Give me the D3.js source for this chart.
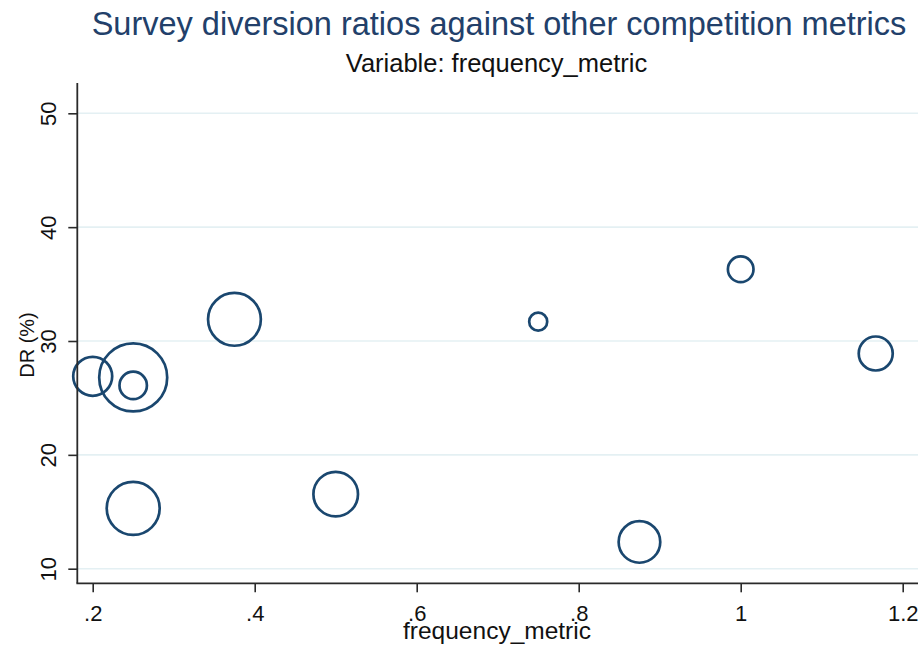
<!DOCTYPE html>
<html>
<head>
<meta charset="utf-8">
<script src="https://cdn.jsdelivr.net/npm/d3@7"></script>
<style>
  html, body { margin: 0; padding: 0; background: #ffffff; }
  svg { display: block; font-family: "Liberation Sans", Arial, sans-serif; }
</style>
</head>
<body>
<svg id="chart" width="919" height="647"></svg>
<script>
// Survey diversion ratio (%) against frequency_metric; marker area ~ weight
const frequencyMetric = [0.2, 0.25, 0.25, 0.375, 0.25, 0.5, 0.75, 1.0, 1.1667, 0.875];
const diversionRatio  = [26.9, 26.8, 26.1, 31.9, 15.3, 16.55, 31.7, 36.3, 28.9, 12.35];
const weights         = [380, 1156, 188, 697, 702, 497, 81, 164, 289, 433];

const xTicks = [0.2, 0.4, 0.6, 0.8, 1.0, 1.2];
const xTickLabels = [".2", ".4", ".6", ".8", "1", "1.2"];
const yTicks = [10, 20, 30, 40, 50];

const titleText = "Survey diversion ratios against other competition metrics";
const subtitleText = "Variable: frequency_metric";
const xTitle = "frequency_metric";
const yTitle = "DR (%)";

const svg = d3.select("#chart");
const navy = "#1a476f";
const axisColor = "#2a2a2a";
const gridColor = "#e4f0f3";

// plot region edges
const plotLeft = 77.3, plotRight = 918, plotTop = 83, plotBottom = 583.3;

const x = d3.scaleLinear().domain([0.2, 1.2]).range([92.7, 902.7]);
const y = d3.scaleLinear().domain([10, 50]).range([568.7, 113.3]);
const r = d3.scaleSqrt().domain([0, d3.max(weights)]).range([0, 34]);

// horizontal grid lines
svg.append("g")
  .selectAll("line")
  .data(yTicks)
  .join("line")
  .attr("x1", plotLeft).attr("x2", plotRight)
  .attr("y1", d => y(d)).attr("y2", d => y(d))
  .attr("stroke", gridColor).attr("stroke-width", 1.6);

// markers
const points = frequencyMetric.map((v, i) => ({ fx: v, dr: diversionRatio[i], w: weights[i] }));
svg.append("g")
  .selectAll("circle")
  .data(points)
  .join("circle")
  .attr("cx", d => x(d.fx))
  .attr("cy", d => y(d.dr))
  .attr("r", d => r(d.w))
  .attr("fill", "none")
  .attr("stroke", navy)
  .attr("stroke-width", 2.7);

// y axis
const yAxis = d3.axisLeft(y).tickValues(yTicks).tickSize(9).tickPadding(0).tickFormat(d3.format("d"));
const gy = svg.append("g").attr("transform", `translate(${plotLeft},0)`).call(yAxis);
gy.select(".domain").remove();
gy.selectAll(".tick line").attr("stroke", axisColor).attr("stroke-width", 1.6);
gy.selectAll(".tick text")
  .attr("x", null).attr("dy", null)
  .attr("transform", "translate(-21,0) rotate(-90)")
  .attr("text-anchor", "middle")
  .attr("font-size", 22)
  .attr("font-family", "Liberation Sans, Arial, sans-serif")
  .attr("fill", "#111");

svg.append("line")
  .attr("x1", plotLeft).attr("x2", plotLeft)
  .attr("y1", plotTop).attr("y2", plotBottom)
  .attr("stroke", axisColor).attr("stroke-width", 1.8);

// x axis
const xAxis = d3.axisBottom(x).tickValues(xTicks).tickSize(9).tickPadding(0)
  .tickFormat((d, i) => xTickLabels[i]);
const gx = svg.append("g").attr("transform", `translate(0,${plotBottom})`).call(xAxis);
gx.select(".domain").remove();
gx.selectAll(".tick line").attr("stroke", axisColor).attr("stroke-width", 1.6);
gx.selectAll(".tick text")
  .attr("y", 38).attr("dy", null)
  .attr("font-size", 22)
  .attr("font-family", "Liberation Sans, Arial, sans-serif")
  .attr("fill", "#111");

svg.append("line")
  .attr("x1", plotLeft - 0.9).attr("x2", plotRight)
  .attr("y1", plotBottom).attr("y2", plotBottom)
  .attr("stroke", axisColor).attr("stroke-width", 1.8);

// titles
svg.append("text")
  .attr("x", 499).attr("y", 35)
  .attr("text-anchor", "middle")
  .attr("font-size", 32.5)
  .attr("fill", "#22406a")
  .text(titleText);

svg.append("text")
  .attr("x", 496.5).attr("y", 71.5)
  .attr("text-anchor", "middle")
  .attr("font-size", 25.5)
  .attr("fill", "#111")
  .text(subtitleText);

svg.append("text")
  .attr("x", 497).attr("y", 639)
  .attr("text-anchor", "middle")
  .attr("font-size", 24.5)
  .attr("fill", "#111")
  .text(xTitle);

svg.append("text")
  .attr("transform", "translate(34,345) rotate(-90)")
  .attr("text-anchor", "middle")
  .attr("font-size", 20)
  .attr("fill", "#111")
  .text(yTitle);
</script>
</body>
</html>
